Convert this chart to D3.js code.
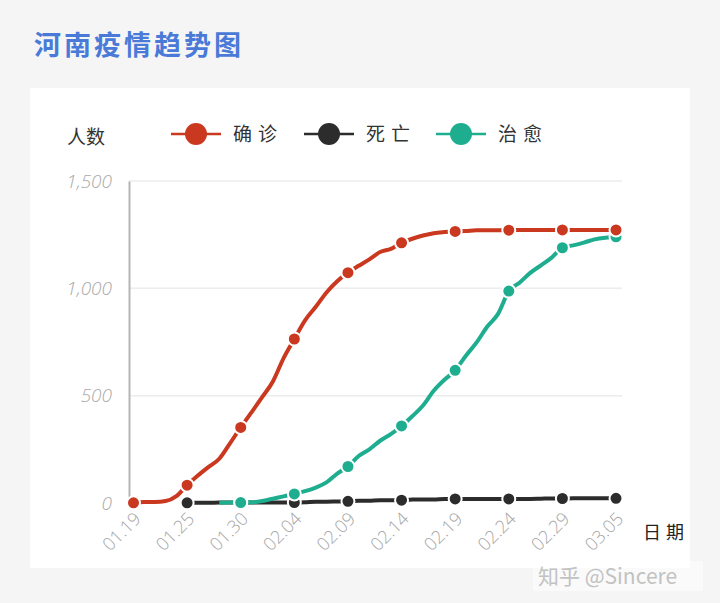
<!DOCTYPE html>
<html><head><meta charset="utf-8">
<script src="https://cdn.jsdelivr.net/npm/d3@7"></script>
<style>
html,body{margin:0;padding:0;background:#f5f5f5;}
svg{display:block;font-family:"Noto Sans CJK SC","Noto Sans",sans-serif;}
</style></head>
<body>
<svg id="c" width="720" height="603"></svg>
<script>
const dates = ["01.19","01.21","01.22","01.23","01.24","01.25","01.26","01.27","01.28","01.29",
 "01.30","01.31","02.01","02.02","02.03","02.04","02.05","02.06","02.07","02.08",
 "02.09","02.10","02.11","02.12","02.13","02.14","02.15","02.16","02.17","02.18",
 "02.19","02.20","02.21","02.22","02.23","02.24","02.25","02.26","02.27","02.28",
 "02.29","03.01","03.02","03.03","03.04","03.05"];
const confirmed = [1,5,5,9,32,83,128,168,206,278,
 352,422,493,566,675,764,851,914,981,1033,
 1073,1105,1135,1169,1184,1212,1231,1246,1257,1262,
 1265,1267,1270,1270,1271,1271,1272,1272,1272,1272,
 1272,1272,1272,1272,1272,1272];
const deaths = [null,null,null,null,null,1,1,1,2,2,
 2,2,2,2,2,2,3,6,6,7,
 8,10,11,13,13,13,16,16,16,19,
 19,19,19,19,19,19,19,19,20,21,
 21,22,22,22,22,22];
const cured = [null,null,null,null,null,null,null,null,1,2,
 2,3,9,20,31,42,55,72,96,137,
 170,219,250,290,321,359,404,454,523,574,
 618,686,748,822,881,987,1026,1072,1107,1143,
 1189,1200,1213,1228,1236,1240];
const yTicks = [0,500,1000,1500];
const seriesNames = ["确诊","死亡","治愈"];
const seriesColors = ["#c9381f","#2c2c2c","#1eae8f"];

const svg = d3.select("#c");
// panel
svg.append("rect").attr("x",30).attr("y",88).attr("width",660).attr("height",480).attr("fill","#ffffff");
// title
svg.append("text").attr("x",34).attr("y",55).attr("font-size",27).attr("font-weight",700)
  .attr("fill","#4a7ad8").attr("letter-spacing",3).text("河南疫情趋势图");

const x = d3.scaleLinear().domain([0,dates.length-1]).range([133.5,616]);
const y = d3.scaleLinear().domain([0,1500]).range([503,181]);

// grid
svg.append("g").selectAll("line").data(yTicks.filter(d=>d>0)).join("line")
  .attr("x1",129).attr("x2",622).attr("y1",d=>y(d)).attr("y2",d=>y(d))
  .attr("stroke","#ececec").attr("stroke-width",1.5);
// y axis
const yAxis = svg.append("g").attr("transform","translate(129,0)")
  .call(d3.axisLeft(y).tickValues(yTicks).tickSize(0).tickPadding(17).tickFormat(d3.format(",")));
yAxis.select(".domain").attr("stroke","#b5b5b5").attr("stroke-width",2);
yAxis.selectAll("text").attr("fill","#aaaaaa").attr("font-size",19).attr("font-style","italic")
  .attr("font-family","'Open Sans',sans-serif").attr("font-weight",300);

// x axis labels
const xTickIdx = d3.range(0,dates.length,5);
const xAxis = svg.append("g").attr("transform","translate(0,503)")
  .call(d3.axisBottom(x).tickValues(xTickIdx).tickSize(0).tickPadding(0).tickFormat(i=>dates[i]));
xAxis.select(".domain").remove();
xAxis.selectAll("text").attr("fill","#a5a5a5").attr("font-size",18)
  .attr("font-family","'Open Sans',sans-serif").attr("font-weight",300)
  .attr("text-anchor","end").attr("dy",0)
  .attr("transform","translate(8,17) rotate(-45)");

// lines
const allSeries = [confirmed,deaths,cured];
const line = d3.line().defined(d=>d!=null).x((d,i)=>x(i)).y(d=>y(d)).curve(d3.curveMonotoneX);
const order = [1,2,0];
order.forEach(s=>{
  const vals = allSeries[s];
  svg.append("path").datum(vals).attr("d",line).attr("fill","none")
    .attr("stroke",seriesColors[s]).attr("stroke-width",4).attr("stroke-linejoin","round");
});
order.forEach(s=>{
  const vals = allSeries[s];
  const pts = xTickIdx.filter(i=>vals[i]!=null);
  svg.append("g").selectAll("circle").data(pts).join("circle")
    .attr("cx",i=>x(i)).attr("cy",i=>y(vals[i])).attr("r",6.5)
    .attr("fill",seriesColors[s]).attr("stroke","#fff").attr("stroke-width",2);
});

// legend
svg.append("text").attr("x",67).attr("y",144).attr("font-size",19).attr("fill","#333").text("人数");
const legX = [196,329,461];
seriesNames.forEach((n,k)=>{
  const g = svg.append("g").attr("transform",`translate(${legX[k]},134)`);
  g.append("line").attr("x1",-25).attr("x2",25).attr("stroke",seriesColors[k]).attr("stroke-width",2.5);
  g.append("circle").attr("r",11).attr("fill",seriesColors[k]);
  g.append("text").attr("x",37).attr("y",7).attr("font-size",19).attr("fill","#333")
    .attr("letter-spacing",6).text(n);
});
svg.append("text").attr("x",643).attr("y",539).attr("font-size",18).attr("fill","#222")
  .attr("letter-spacing",5).text("日期");

// watermark
svg.append("rect").attr("x",533).attr("y",561).attr("width",170).attr("height",30).attr("fill","#ffffff").attr("opacity",0.5);
svg.append("text").attr("x",538).attr("y",584).attr("font-size",21).attr("fill","#c2c2c2").text("知乎 @Sincere");
</script>
</body></html>
